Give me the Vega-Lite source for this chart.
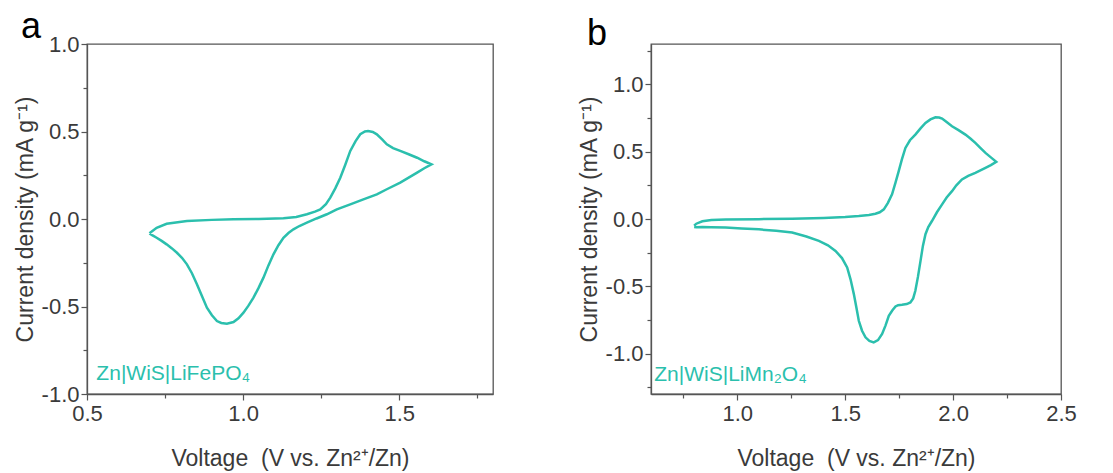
{
  "$schema": "https://vega.github.io/schema/vega-lite/v6.json",
  "background": "white",
  "padding": {"left": 13, "top": 8, "right": 10, "bottom": 2},
  "spacing": 83,
  "datasets": {
    "a": [
      {"step": 1, "voltage": 0.700, "current": -0.082},
      {"step": 2, "voltage": 0.723, "current": -0.050},
      {"step": 3, "voltage": 0.755, "current": -0.027},
      {"step": 4, "voltage": 0.820, "current": -0.011},
      {"step": 5, "voltage": 0.900, "current": -0.005},
      {"step": 6, "voltage": 0.969, "current": -0.002},
      {"step": 7, "voltage": 1.050, "current": 0.000},
      {"step": 8, "voltage": 1.129, "current": 0.004},
      {"step": 9, "voltage": 1.170, "current": 0.012},
      {"step": 10, "voltage": 1.204, "current": 0.027},
      {"step": 11, "voltage": 1.230, "current": 0.042},
      {"step": 12, "voltage": 1.247, "current": 0.055},
      {"step": 13, "voltage": 1.265, "current": 0.085},
      {"step": 14, "voltage": 1.279, "current": 0.122},
      {"step": 15, "voltage": 1.295, "current": 0.175},
      {"step": 16, "voltage": 1.311, "current": 0.236},
      {"step": 17, "voltage": 1.327, "current": 0.310},
      {"step": 18, "voltage": 1.343, "current": 0.389},
      {"step": 19, "voltage": 1.360, "current": 0.445},
      {"step": 20, "voltage": 1.375, "current": 0.484},
      {"step": 21, "voltage": 1.390, "current": 0.500},
      {"step": 22, "voltage": 1.400, "current": 0.503},
      {"step": 23, "voltage": 1.415, "current": 0.497},
      {"step": 24, "voltage": 1.428, "current": 0.484},
      {"step": 25, "voltage": 1.445, "current": 0.455},
      {"step": 26, "voltage": 1.460, "current": 0.427},
      {"step": 27, "voltage": 1.480, "current": 0.405},
      {"step": 28, "voltage": 1.503, "current": 0.389},
      {"step": 29, "voltage": 1.530, "current": 0.370},
      {"step": 30, "voltage": 1.557, "current": 0.350},
      {"step": 31, "voltage": 1.580, "current": 0.330},
      {"step": 32, "voltage": 1.603, "current": 0.312},
      {"step": 33, "voltage": 1.580, "current": 0.290},
      {"step": 34, "voltage": 1.557, "current": 0.265},
      {"step": 35, "voltage": 1.503, "current": 0.208},
      {"step": 36, "voltage": 1.460, "current": 0.170},
      {"step": 37, "voltage": 1.428, "current": 0.141},
      {"step": 38, "voltage": 1.385, "current": 0.112},
      {"step": 39, "voltage": 1.343, "current": 0.084},
      {"step": 40, "voltage": 1.300, "current": 0.055},
      {"step": 41, "voltage": 1.268, "current": 0.027},
      {"step": 42, "voltage": 1.235, "current": 0.003},
      {"step": 43, "voltage": 1.204, "current": -0.021},
      {"step": 44, "voltage": 1.180, "current": -0.040},
      {"step": 45, "voltage": 1.161, "current": -0.059},
      {"step": 46, "voltage": 1.145, "current": -0.080},
      {"step": 47, "voltage": 1.129, "current": -0.107},
      {"step": 48, "voltage": 1.113, "current": -0.150},
      {"step": 49, "voltage": 1.097, "current": -0.202},
      {"step": 50, "voltage": 1.081, "current": -0.265},
      {"step": 51, "voltage": 1.065, "current": -0.335},
      {"step": 52, "voltage": 1.049, "current": -0.395},
      {"step": 53, "voltage": 1.033, "current": -0.449},
      {"step": 54, "voltage": 1.017, "current": -0.495},
      {"step": 55, "voltage": 1.001, "current": -0.535},
      {"step": 56, "voltage": 0.985, "current": -0.567},
      {"step": 57, "voltage": 0.969, "current": -0.589},
      {"step": 58, "voltage": 0.948, "current": -0.598},
      {"step": 59, "voltage": 0.930, "current": -0.594},
      {"step": 60, "voltage": 0.916, "current": -0.583},
      {"step": 61, "voltage": 0.900, "current": -0.550},
      {"step": 62, "voltage": 0.884, "current": -0.507},
      {"step": 63, "voltage": 0.868, "current": -0.440},
      {"step": 64, "voltage": 0.852, "current": -0.373},
      {"step": 65, "voltage": 0.836, "current": -0.310},
      {"step": 66, "voltage": 0.820, "current": -0.259},
      {"step": 67, "voltage": 0.804, "current": -0.222},
      {"step": 68, "voltage": 0.788, "current": -0.193},
      {"step": 69, "voltage": 0.772, "current": -0.168},
      {"step": 70, "voltage": 0.755, "current": -0.145},
      {"step": 71, "voltage": 0.739, "current": -0.125},
      {"step": 72, "voltage": 0.723, "current": -0.107},
      {"step": 73, "voltage": 0.710, "current": -0.094},
      {"step": 74, "voltage": 0.700, "current": -0.082}
    ],
    "b": [
      {"step": 1, "voltage": 0.800, "current": -0.050},
      {"step": 2, "voltage": 0.810, "current": -0.035},
      {"step": 3, "voltage": 0.838, "current": -0.017},
      {"step": 4, "voltage": 0.880, "current": -0.008},
      {"step": 5, "voltage": 0.946, "current": -0.004},
      {"step": 6, "voltage": 1.100, "current": -0.001},
      {"step": 7, "voltage": 1.254, "current": 0.002},
      {"step": 8, "voltage": 1.400, "current": 0.008},
      {"step": 9, "voltage": 1.500, "current": 0.015},
      {"step": 10, "voltage": 1.563, "current": 0.022},
      {"step": 11, "voltage": 1.610, "current": 0.030},
      {"step": 12, "voltage": 1.640, "current": 0.039},
      {"step": 13, "voltage": 1.660, "current": 0.050},
      {"step": 14, "voltage": 1.679, "current": 0.072},
      {"step": 15, "voltage": 1.698, "current": 0.120},
      {"step": 16, "voltage": 1.717, "current": 0.183},
      {"step": 17, "voltage": 1.733, "current": 0.270},
      {"step": 18, "voltage": 1.748, "current": 0.356},
      {"step": 19, "voltage": 1.763, "current": 0.445},
      {"step": 20, "voltage": 1.779, "current": 0.528},
      {"step": 21, "voltage": 1.800, "current": 0.585},
      {"step": 22, "voltage": 1.825, "current": 0.627},
      {"step": 23, "voltage": 1.850, "current": 0.675},
      {"step": 24, "voltage": 1.872, "current": 0.713},
      {"step": 25, "voltage": 1.895, "current": 0.740},
      {"step": 26, "voltage": 1.918, "current": 0.756},
      {"step": 27, "voltage": 1.935, "current": 0.754},
      {"step": 28, "voltage": 1.949, "current": 0.746},
      {"step": 29, "voltage": 1.970, "current": 0.720},
      {"step": 30, "voltage": 1.995, "current": 0.689},
      {"step": 31, "voltage": 2.025, "current": 0.660},
      {"step": 32, "voltage": 2.057, "current": 0.627},
      {"step": 33, "voltage": 2.080, "current": 0.598},
      {"step": 34, "voltage": 2.103, "current": 0.565},
      {"step": 35, "voltage": 2.125, "current": 0.530},
      {"step": 36, "voltage": 2.150, "current": 0.491},
      {"step": 37, "voltage": 2.175, "current": 0.458},
      {"step": 38, "voltage": 2.200, "current": 0.425},
      {"step": 39, "voltage": 2.175, "current": 0.400},
      {"step": 40, "voltage": 2.150, "current": 0.380},
      {"step": 41, "voltage": 2.103, "current": 0.343},
      {"step": 42, "voltage": 2.070, "current": 0.320},
      {"step": 43, "voltage": 2.041, "current": 0.294},
      {"step": 44, "voltage": 2.015, "current": 0.250},
      {"step": 45, "voltage": 1.995, "current": 0.207},
      {"step": 46, "voltage": 1.970, "current": 0.160},
      {"step": 47, "voltage": 1.949, "current": 0.109},
      {"step": 48, "voltage": 1.925, "current": 0.050},
      {"step": 49, "voltage": 1.902, "current": -0.015},
      {"step": 50, "voltage": 1.885, "current": -0.060},
      {"step": 51, "voltage": 1.872, "current": -0.113},
      {"step": 52, "voltage": 1.860, "current": -0.200},
      {"step": 53, "voltage": 1.849, "current": -0.311},
      {"step": 54, "voltage": 1.837, "current": -0.430},
      {"step": 55, "voltage": 1.825, "current": -0.533},
      {"step": 56, "voltage": 1.815, "current": -0.590},
      {"step": 57, "voltage": 1.802, "current": -0.620},
      {"step": 58, "voltage": 1.785, "current": -0.632},
      {"step": 59, "voltage": 1.763, "current": -0.637},
      {"step": 60, "voltage": 1.745, "current": -0.640},
      {"step": 61, "voltage": 1.733, "current": -0.650},
      {"step": 62, "voltage": 1.718, "current": -0.680},
      {"step": 63, "voltage": 1.702, "current": -0.719},
      {"step": 64, "voltage": 1.687, "current": -0.790},
      {"step": 65, "voltage": 1.671, "current": -0.854},
      {"step": 66, "voltage": 1.652, "current": -0.900},
      {"step": 67, "voltage": 1.632, "current": -0.916},
      {"step": 68, "voltage": 1.612, "current": -0.905},
      {"step": 69, "voltage": 1.594, "current": -0.879},
      {"step": 70, "voltage": 1.578, "current": -0.830},
      {"step": 71, "voltage": 1.563, "current": -0.756},
      {"step": 72, "voltage": 1.552, "current": -0.660},
      {"step": 73, "voltage": 1.540, "current": -0.558},
      {"step": 74, "voltage": 1.525, "current": -0.450},
      {"step": 75, "voltage": 1.509, "current": -0.360},
      {"step": 76, "voltage": 1.485, "current": -0.290},
      {"step": 77, "voltage": 1.455, "current": -0.237},
      {"step": 78, "voltage": 1.420, "current": -0.195},
      {"step": 79, "voltage": 1.378, "current": -0.163},
      {"step": 80, "voltage": 1.320, "current": -0.130},
      {"step": 81, "voltage": 1.254, "current": -0.101},
      {"step": 82, "voltage": 1.180, "current": -0.088},
      {"step": 83, "voltage": 1.100, "current": -0.077},
      {"step": 84, "voltage": 1.020, "current": -0.070},
      {"step": 85, "voltage": 0.946, "current": -0.064},
      {"step": 86, "voltage": 0.880, "current": -0.061},
      {"step": 87, "voltage": 0.838, "current": -0.060},
      {"step": 88, "voltage": 0.810, "current": -0.062},
      {"step": 89, "voltage": 0.800, "current": -0.060}
    ]
  },
  "hconcat": [
    {
      "width": 406,
      "height": 350,
      "title": {"text": "a", "anchor": "start", "frame": "group", "dx": -66, "fontSize": 36, "fontWeight": "normal", "font": "Liberation Sans", "color": "#000000", "baseline": "alphabetic", "offset": -41},
      "layer": [
        {
          "data": {"name": "a"},
          "mark": {"type": "line", "color": "#2bbfad", "strokeWidth": 2.5, "clip": true},
          "encoding": {
            "x": {"field": "voltage", "type": "quantitative",
              "scale": {"domain": [0.5, 1.8], "nice": false, "zero": false},
              "axis": {"title": "Voltage\u00a0 (V vs. Zn²⁺/Zn)", "values": [0.5, 0.75, 1, 1.25, 1.5, 1.75], "tickCount": 40,
                "labelExpr": "datum.value % 0.5 == 0 ? format(datum.value, '.1f') : ''",
                "tickSize": {"condition": {"test": "datum.value % 0.5 == 0", "value": 6}, "value": 4},
                "labelPadding": 3, "titlePadding": 23}},
            "y": {"field": "current", "type": "quantitative",
              "scale": {"domain": [-1, 1], "nice": false, "zero": false},
              "axis": {"title": "Current density (mA g⁻¹)", "values": [-1, -0.75, -0.5, -0.25, 0, 0.25, 0.5, 0.75, 1], "tickCount": 40,
                "labelExpr": "datum.value % 0.5 == 0 ? replace(format(datum.value, '.1f'), '−', '-') : ''",
                "tickSize": {"condition": {"test": "datum.value % 0.5 == 0", "value": 6}, "value": 4},
                "labelPadding": 2, "titlePadding": 4}},
            "order": {"field": "step", "type": "quantitative"}
          }
        },
        {
          "data": {"values": [{"label": "Zn|WiS|LiFePO₄"}]},
          "mark": {"type": "text", "align": "left", "baseline": "alphabetic", "fontSize": 21, "font": "Liberation Sans", "color": "#2bbfad"},
          "encoding": {
            "x": {"datum": 0.53, "type": "quantitative"},
            "y": {"datum": -0.92, "type": "quantitative"},
            "text": {"field": "label"}
          }
        }
      ]
    },
    {
      "width": 410,
      "height": 350,
      "title": {"text": "b", "anchor": "start", "frame": "group", "dx": -64, "fontSize": 36, "fontWeight": "normal", "font": "Liberation Sans", "color": "#000000", "baseline": "alphabetic", "offset": -41},
      "layer": [
        {
          "data": {"name": "b"},
          "mark": {"type": "line", "color": "#2bbfad", "strokeWidth": 2.5, "clip": true},
          "encoding": {
            "x": {"field": "voltage", "type": "quantitative",
              "scale": {"domain": [0.6, 2.5], "nice": false, "zero": false},
              "axis": {"title": "Voltage\u00a0 (V vs. Zn²⁺/Zn)", "values": [0.75, 1, 1.25, 1.5, 1.75, 2, 2.25, 2.5], "tickCount": 40,
                "labelExpr": "datum.value % 0.5 == 0 ? format(datum.value, '.1f') : ''",
                "tickSize": {"condition": {"test": "datum.value % 0.5 == 0", "value": 6}, "value": 4},
                "labelPadding": 3, "titlePadding": 23}},
            "y": {"field": "current", "type": "quantitative",
              "scale": {"domain": [-1.3, 1.3], "nice": false, "zero": false},
              "axis": {"title": "Current density (mA g⁻¹)", "values": [-1.25, -1, -0.75, -0.5, -0.25, 0, 0.25, 0.5, 0.75, 1, 1.25], "tickCount": 40,
                "labelExpr": "datum.value % 0.5 == 0 ? replace(format(datum.value, '.1f'), '−', '-') : ''",
                "tickSize": {"condition": {"test": "datum.value % 0.5 == 0", "value": 6}, "value": 4},
                "labelPadding": 2, "titlePadding": 4}},
            "order": {"field": "step", "type": "quantitative"}
          }
        },
        {
          "data": {"values": [{"label": "Zn|WiS|LiMn₂O₄"}]},
          "mark": {"type": "text", "align": "left", "baseline": "alphabetic", "fontSize": 21, "font": "Liberation Sans", "color": "#2bbfad"},
          "encoding": {
            "x": {"datum": 0.615, "type": "quantitative"},
            "y": {"datum": -1.2, "type": "quantitative"},
            "text": {"field": "label"}
          }
        }
      ]
    }
  ],
  "config": {
    "font": "Liberation Sans",
    "view": {"stroke": "#555555", "strokeWidth": 1.3},
    "axis": {
      "labelFont": "Liberation Sans", "labelFontSize": 22, "labelColor": "#3a3a3a",
      "titleFont": "Liberation Sans", "titleFontSize": 23, "titleFontWeight": "normal", "titleColor": "#3a3a3a",
      "domainColor": "#555555", "domainWidth": 1.3, "tickColor": "#555555", "tickWidth": 1.2,
      "grid": false, "labelFlush": false, "labelOverlap": false, "labelBound": false
    }
  }
}
